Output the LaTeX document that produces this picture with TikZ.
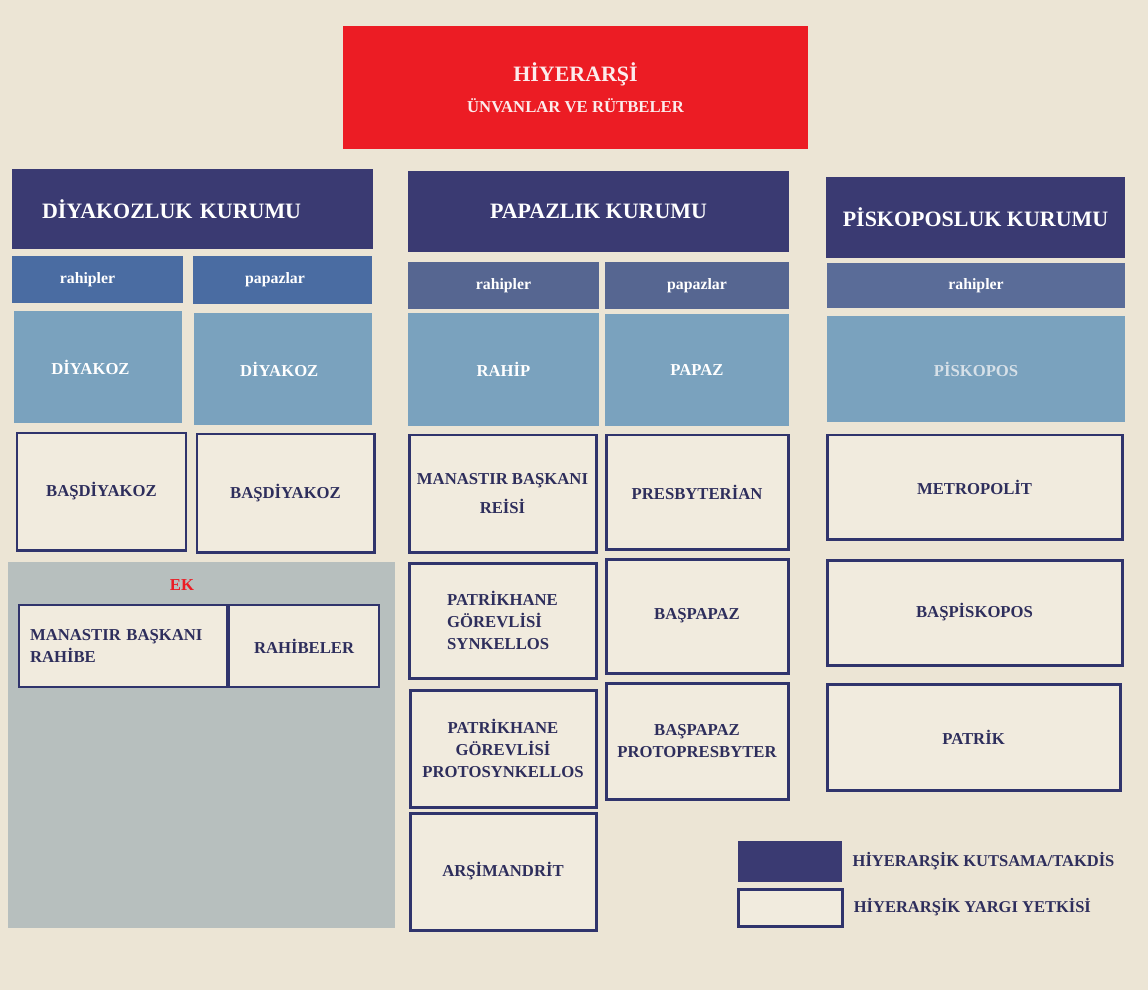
\documentclass[tikz,border=0pt]{standalone}
\usepackage{fontspec}
\setmainfont{Liberation Serif}
\usetikzlibrary{positioning}
\definecolor{bg}{RGB}{236,229,213}
\definecolor{navy}{RGB}{58,58,114}
\definecolor{altsol}{RGB}{74,108,162}
\definecolor{altorta}{RGB}{86,102,145}
\definecolor{acik}{RGB}{122,162,190}
\definecolor{krem}{RGB}{241,235,222}
\definecolor{cerceve}{RGB}{48,52,108}
\definecolor{murekkep}{RGB}{46,46,92}
\definecolor{kirmizi}{RGB}{236,28,36}
\definecolor{gri}{RGB}{183,191,190}

\begin{document}
\begin{tikzpicture}[x=0.02cm,y=-0.02cm,
  every node/.style={inner sep=0pt,font=\bfseries\fontsize{9.5}{12.5}\selectfont},
  sz/.style 2 args={minimum width=#1*0.02cm,minimum height=#2*0.02cm},
  baslik/.style={fill=kirmizi,text={rgb,255:red,252;green,236;blue,236},align=center,
    font=\bfseries\fontsize{12.5}{15}\selectfont},
  kurum/.style={fill=navy,text=white,font=\bfseries\fontsize{12.5}{15}\selectfont},
  alt/.style={fill=altorta,text=white,font=\bfseries\fontsize{9}{11}\selectfont},
  unvan/.style={fill=acik,text=white},
  yetki/.style={draw=cerceve,line width=1.7pt,fill=krem,text=murekkep,align=center},
  lejant/.style={text=murekkep,font=\bfseries\fontsize{9.4}{11}\selectfont}]
  % zemin
  \fill[bg] (0,0) rectangle (1148,990);
  \node[baslik,sz={465}{123}] (baslik) at (575.5,87.5)
    {HİYERARŞİ\\[2.5pt]\fontsize{9.5}{12}\selectfont ÜNVANLAR VE RÜTBELER};
  % diyakozluk
  \node[kurum,minimum height=80*0.02cm,text width=6.02cm,inner xsep=0.6cm,align=left] (k_d) at (192.5,209) {DİYAKOZLUK KURUMU};
  \node[alt,fill=altsol,sz={171}{47}] (a_dr) at (97.5,279.5) {rahipler\hspace*{0.4cm}};
  \node[alt,fill=altsol,sz={179}{48}] (a_dp) at (282.5,280) {papazlar\hspace*{0.3cm}};
  \node[unvan,sz={168}{112}] (diyakoz_r) at (98,367) {DİYAKOZ\hspace*{0.3cm}};
  \node[unvan,sz={178}{112}] (diyakoz_p) at (283,369) {DİYAKOZ\hspace*{0.15cm}};
  \node[yetki,sz={169}{117}] (bas_r) at (101.5,491.5) {BAŞDİYAKOZ};
  \node[yetki,sz={177}{118}] (bas_p) at (285.5,493) {BAŞDİYAKOZ};
  % ek
  \node[fill=gri,sz={387}{366}] (ek_zemin) at (201.5,745) {};
  \node[text=kirmizi] (ek) at (182,585) {EK};
  \node[yetki,line width=1.2pt,minimum height=82*0.02cm,text width=3.72cm,inner xsep=0.22cm,align=left] (ek_a) at (123,646) {MANASTIR BAŞKANI\\RAHİBE};
  \node[yetki,line width=1.2pt,sz={150}{82},right=0pt of ek_a] (ek_b) {RAHİBELER};
  % papazlik
  \node[kurum,sz={381}{81}] (k_p) at (598.5,211.5) {PAPAZLIK KURUMU};
  \node[alt,sz={191}{47}] (a_pr) at (503.5,285.5) {rahipler};
  \node[alt,sz={184}{47}] (a_pp) at (697,285.5) {papazlar};
  \node[unvan,sz={191}{113}] (rahip) at (503.5,369.5) {RAHİP};
  \node[unvan,sz={184}{112}] (papaz) at (697,370) {PAPAZ};
  \node[yetki,sz={187}{117}] (reis) at (502.5,493.5) {MANASTIR BAŞKANI\\[4pt]REİSİ};
  \node[yetki,sz={182}{114}] (presb) at (697,492) {PRESBYTERİAN};
  \node[yetki,sz={187}{115},align=left] (synk) at (502.5,620.5) {PATRİKHANE\\GÖREVLİSİ\\SYNKELLOS};
  \node[yetki,sz={182}{114}] (baspapaz) at (697,616) {BAŞPAPAZ};
  \node[yetki,sz={186}{117}] (proto) at (503,748.5) {PATRİKHANE\\GÖREVLİSİ\\PROTOSYNKELLOS};
  \node[yetki,sz={182}{116}] (protop) at (697,741) {BAŞPAPAZ\\PROTOPRESBYTER};
  \node[yetki,sz={186}{117}] (arsi) at (503,871.5) {ARŞİMANDRİT};
  % piskoposluk
  \node[kurum,sz={299}{81}] (k_k) at (975.5,217.5) {PİSKOPOSLUK KURUMU};
  \node[alt,fill={rgb,255:red,90;green,108;blue,152},sz={298}{45}] (a_kr) at (976,285.5) {rahipler};
  \node[unvan,text={rgb,255:red,214;green,224;blue,232},sz={298}{106}] (piskopos) at (976,369) {PİSKOPOS};
  \node[yetki,sz={295}{104}] (metro) at (974.5,487) {METROPOLİT};
  \node[yetki,sz={295}{105}] (baspisk) at (974.5,612.5) {BAŞPİSKOPOS};
  \node[yetki,sz={293}{106}] (patrik) at (973.5,737) {PATRİK};
  % lejant
  \node[kurum,sz={104}{41}] (l_k) at (790,861.5) {};
  \node[yetki,sz={104}{37}] (l_y) at (790,907.5) {};
  \node[lejant,right=0.2cm of l_k] (t_k) {HİYERARŞİK KUTSAMA/TAKDİS};
  \node[lejant,right=0.2cm of l_y] (t_y) {HİYERARŞİK YARGI YETKİSİ};
\end{tikzpicture}
\end{document}
